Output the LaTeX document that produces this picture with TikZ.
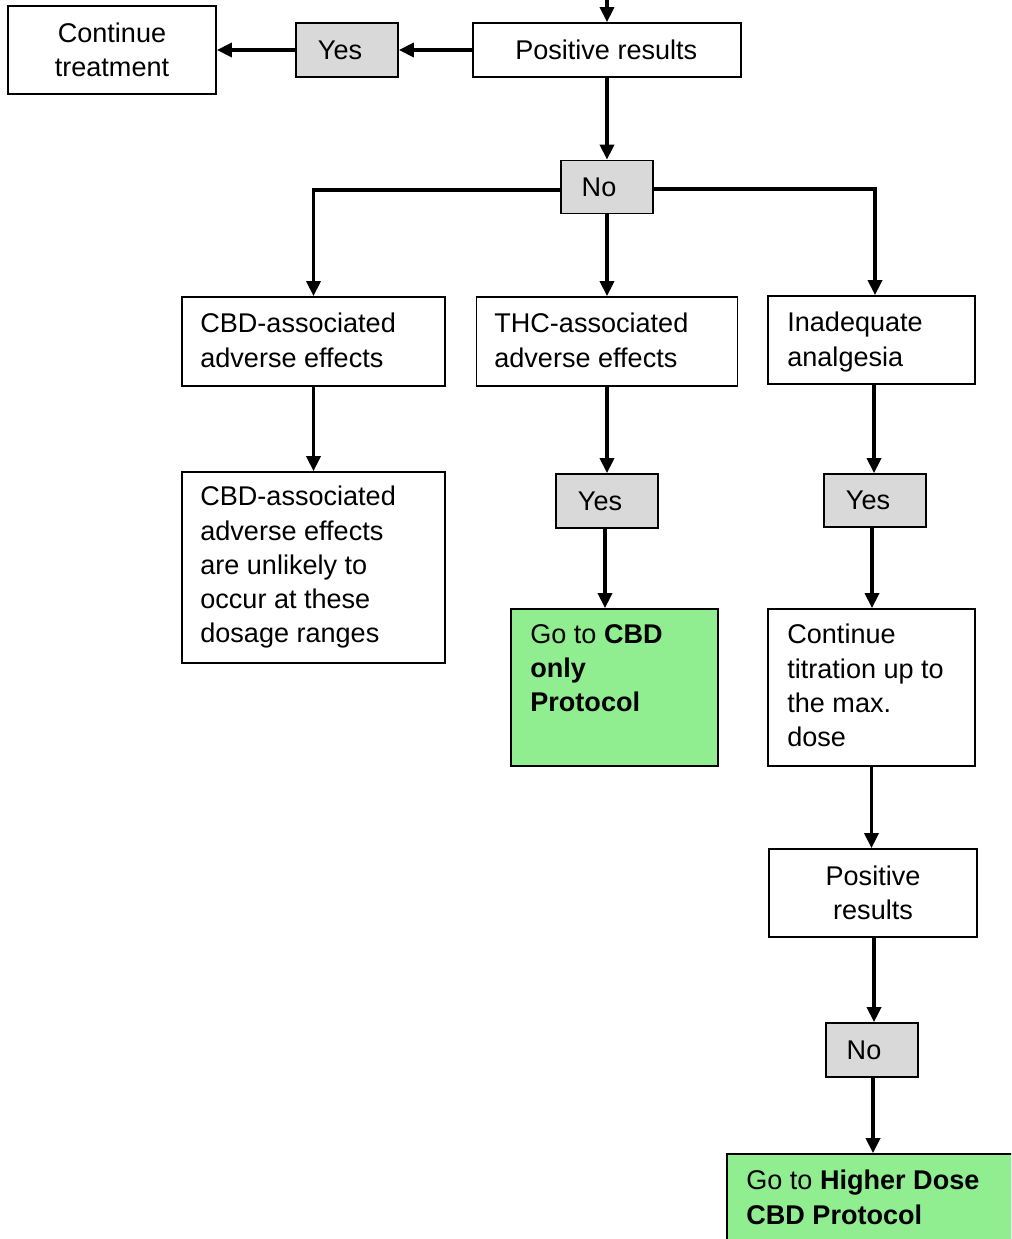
\documentclass[tikz,border=0pt]{standalone}
\usepackage{fontspec}
\setmainfont{Liberation Sans}
\usetikzlibrary{arrows.meta}
\definecolor{choicegray}{HTML}{D9D9D9}
\definecolor{protogreen}{HTML}{90EE90}
\tikzset{
  bodyfont/.style={font=\fontsize{15.4}{19.4}\selectfont},
  box/.style 2 args={draw=black, line width=1pt, fill=white, bodyfont,
    minimum width=#1*0.02cm, minimum height=#2*0.02cm, inner sep=0pt},
  choice/.style 2 args={box={#1}{#2}, fill=choicegray},
  protocol/.style 2 args={box={#1}{#2}, fill=protogreen},
  txt/.style={bodyfont, inner sep=0pt, align=left, anchor=north west},
  flow/.style={line width=2pt, -{Triangle[length=0.3cm,width=0.28cm]}}
}
% trailing padding that shifts a centred label to the left
\newcommand{\padright}[1]{\rule{#1}{0pt}}
\begin{document}
\begin{tikzpicture}[x=0.02cm,y=-0.02cm]

\path[use as bounding box] (0,0) rectangle (1011,1239);
\clip (0,0) rectangle (1011,1239);

% top row
\node[box={268}{54}] (pos1) at (607,50) {Positive results\padright{0.03cm}};
\node[choice={102}{54}] (yes1) at (347,50) {Yes\padright{0.28cm}};
\node[box={208}{88}, align=center] (cont) at (112,50) {Continue\\treatment};
\coordinate (entry) at (607,-5);

% first decision
\node[choice={92}{53}] (no1) at (607,187) {No\padright{0.32cm}};

% three branches
\node[box={263}{89}] (cbd) at (313.5,341.5) {};
\node[txt] (cbdt) at (200,313) {CBD-associated\\adverse effects};
\node[box={261}{89}] (thc) at (607,341.5) {};
\node[txt] (thct) at (494,313) {THC-associated\\adverse effects};
\node[box={207}{88}] (inad) at (871.5,340) {};
\node[txt] (inadt) at (787,312) {Inadequate\\analgesia};

% CBD branch
\node[box={263}{191}] (cbd2) at (313.5,567.5) {};
\node[txt] (cbd2t) at (200,486) {CBD-associated\\adverse effects\\are unlikely to\\occur at these\\dosage ranges};

% THC branch
\node[choice={102}{54}] (yes2) at (607,501) {Yes\padright{0.28cm}};
\node[protocol={207}{157}] (cbdonly) at (614.5,687.5) {};
\node[txt] (cbdonlyt) at (530,624) {Go to \textbf{CBD}\\\textbf{only}\\\textbf{Protocol}};

% analgesia branch
\node[choice={102}{53}] (yes3) at (875,500.5) {Yes\padright{0.28cm}};
\node[box={207}{157}] (titr) at (871.5,687.5) {};
\node[txt] (titrt) at (787,624) {Continue\\titration up to\\the max.\\dose};
\node[box={208}{88}, align=center] (pos2) at (873,893) {Positive\\results};
\node[choice={92}{54}] (no2) at (872,1050) {No\padright{0.32cm}};
\node[protocol={310}{110}] (higher) at (882,1209) {};
\node[txt] (highert) at (746,1170) {Go to \textbf{Higher Dose}\\\textbf{CBD Protocol}};

% connectors
\draw[flow] (entry) -- (pos1.north);
\draw[flow] (pos1.west) -- (yes1.east);
\draw[flow] (yes1.west) -- (cont.east);
\draw[flow] (pos1.south) -- (no1.north);
\draw[flow] ([yshift=-0.06cm]no1.west) -| (cbd.north);
\draw[flow] (no1.south) -- (thc.north);
\draw[flow] ([yshift=-0.04cm]no1.east) -| ([xshift=0.07cm]inad.north);
\draw[flow] (cbd.south) -- (cbd2.north);
\draw[flow] (thc.south) -- (yes2.north);
\draw[flow] ([xshift=-0.04cm]yes2.south) -- ([xshift=-0.04cm]yes2.south |- cbdonly.north);
\draw[flow] ([xshift=0.05cm]inad.south) -- ([xshift=0.05cm]inad.south |- yes3.north);
\draw[flow] ([xshift=-0.06cm]yes3.south) -- ([xshift=-0.06cm]yes3.south |- titr.north);
\draw[flow] (titr.south) -- (titr.south |- pos2.north);
\draw[flow] ([xshift=0.02cm]pos2.south) -- ([xshift=0.02cm]pos2.south |- no2.north);
\draw[flow] ([xshift=0.02cm]no2.south) -- ([xshift=0.02cm]no2.south |- higher.north);
\end{tikzpicture}
\end{document}
